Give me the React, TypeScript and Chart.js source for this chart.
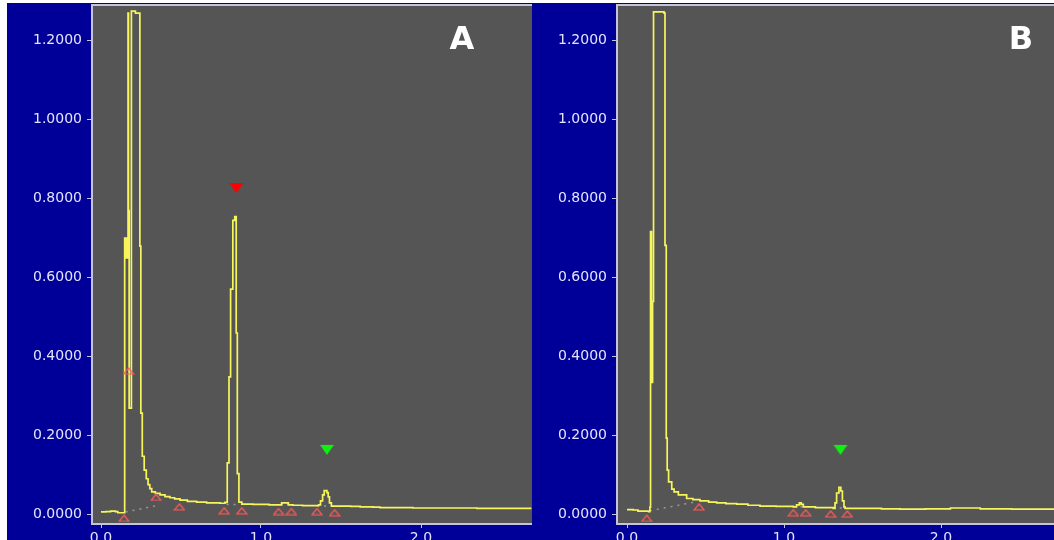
import React, { useEffect, useRef } from "react";
import { Chart, registerables } from "chart.js";

Chart.register(...registerables);

// ---------- shared axis ticks ----------
const yTicks = [0, 0.2, 0.4, 0.6, 0.8, 1.0, 1.2];
const xTicks = [0, 1, 2];

// ---------- Panel A chromatogram ----------
const aTime = [
  0.0, 0.03, 0.06, 0.09, 0.105, 0.148, 0.152, 0.156, 0.16, 0.169, 0.172, 0.176, 0.19, 0.215,
  0.243, 0.249, 0.258, 0.27, 0.283, 0.294, 0.305, 0.317, 0.34, 0.369, 0.4, 0.431, 0.46, 0.494,
  0.54, 0.598, 0.66, 0.744, 0.775, 0.789, 0.8, 0.81, 0.824, 0.836, 0.845, 0.852, 0.862, 0.88,
  0.95, 1.05, 1.12, 1.129, 1.171, 1.2, 1.26, 1.36, 1.372, 1.385, 1.395, 1.412, 1.42, 1.428,
  1.44, 1.5, 1.56, 1.62, 1.7, 1.744, 1.85, 1.95, 2.05, 2.2, 2.35, 2.5, 2.69,
];
const aValue = [
  0.007, 0.008, 0.009, 0.008, 0.005, 0.7, 0.65, 0.7, 0.65, 1.27, 0.77, 0.27, 1.275, 1.27,
  0.68, 0.257, 0.148, 0.113, 0.091, 0.076, 0.066, 0.058, 0.054, 0.05, 0.046, 0.043, 0.04, 0.037,
  0.034, 0.032, 0.03, 0.029, 0.031, 0.131, 0.349, 0.571, 0.745, 0.755, 0.46, 0.104, 0.032, 0.027,
  0.026, 0.025, 0.025, 0.03, 0.025, 0.024, 0.023, 0.025, 0.035, 0.05, 0.061, 0.056, 0.045, 0.03,
  0.022, 0.022, 0.021, 0.02, 0.019, 0.018, 0.018, 0.017, 0.017, 0.017, 0.016, 0.016, 0.016,
];
const aPeakEndTime = [0.144, 0.172, 0.344, 0.49, 0.77, 0.88, 1.11, 1.19, 1.35, 1.46];
const aPeakEndValue = [-0.009, 0.364, 0.044, 0.02, 0.01, 0.01, 0.008, 0.008, 0.008, 0.005];
const aRedMarkTime = [0.846];
const aRedMarkValue = [0.827];
const aGreenMarkTime = [1.4125];
const aGreenMarkValue = [0.164];
const aBaselineTime = [[0.154, 0.348], [0.785, 0.87], [1.12, 1.18], [1.35, 1.45]];
const aBaselineValue = [[0.007, 0.023], [0.026, 0.026], [0.026, 0.026], [0.022, 0.022]];

// ---------- Panel B chromatogram ----------
const bTime = [
  0.0, 0.04, 0.07, 0.138, 0.146, 0.15, 0.156, 0.163, 0.169, 0.236, 0.242, 0.25, 0.256, 0.265,
  0.285, 0.3, 0.327, 0.38, 0.42, 0.465, 0.52, 0.571, 0.63, 0.699, 0.77, 0.847, 0.95, 1.059,
  1.08, 1.098, 1.11, 1.123, 1.2, 1.314, 1.325, 1.335, 1.35, 1.362, 1.372, 1.382, 1.389, 1.5,
  1.62, 1.739, 1.9, 2.06, 2.25, 2.45, 2.72,
];
const bValue = [
  0.013, 0.012, 0.009, 0.008, 0.019, 0.717, 0.335, 0.54, 1.273, 1.27, 0.682, 0.194, 0.113, 0.083,
  0.065, 0.058, 0.05, 0.041, 0.038, 0.035, 0.032, 0.03, 0.028, 0.027, 0.024, 0.022, 0.021, 0.02,
  0.025, 0.03, 0.026, 0.02, 0.018, 0.016, 0.03, 0.055, 0.069, 0.06, 0.035, 0.02, 0.016, 0.016,
  0.015, 0.014, 0.015, 0.017, 0.015, 0.014, 0.014,
];
const bPeakEndTime = [0.125, 0.459, 1.059, 1.138, 1.297, 1.403];
const bPeakEndValue = [-0.009, 0.02, 0.005, 0.005, 0.002, 0.002];
const bGreenMarkTime = [1.36];
const bGreenMarkValue = [0.164];
const bBaselineTime = [[0.146, 0.444], [1.06, 1.14], [1.31, 1.39]];
const bBaselineValue = [[0.01, 0.033], [0.02, 0.02], [0.017, 0.017]];

// ---------- styling ----------
const BLUE = "#000099";
const PLOT_GRAY = "#555555";
const TRACE = "#f6f65c";
const AXIS_TEXT = "#e4e4ff";
const AXIS_LINE = "#c4c4dc";

const zip = (xs: number[], ys: number[]) => xs.map((x, i) => ({ x, y: ys[i] }));

function makeTri(w: number, h: number, color: string, filled: boolean, down: boolean) {
  const c = document.createElement("canvas");
  c.width = w + 2;
  c.height = h + 2;
  const ctx = c.getContext("2d")!;
  ctx.beginPath();
  if (down) {
    ctx.moveTo(1, 1);
    ctx.lineTo(w + 1, 1);
    ctx.lineTo(w / 2 + 1, h + 1);
  } else {
    ctx.moveTo(w / 2 + 1, 1);
    ctx.lineTo(w + 1, h + 1);
    ctx.lineTo(1, h + 1);
  }
  ctx.closePath();
  if (filled) {
    ctx.fillStyle = color;
    ctx.fill();
  } else {
    ctx.strokeStyle = color;
    ctx.lineWidth = 1.2;
    ctx.stroke();
  }
  return c;
}

type PanelSpec = {
  label: string;
  labelFromRight: number;
  width: number;
  yAxisWidth: number;
  padRight: number;
  xMin: number;
  xMax: number;
  time: number[];
  value: number[];
  peakEndTime: number[];
  peakEndValue: number[];
  redTime: number[];
  redValue: number[];
  greenTime: number[];
  greenValue: number[];
  baseTime: number[][];
  baseValue: number[][];
};

const Y_MIN = -0.0235;
const Y_MAX = 1.2904;

function buildChart(canvas: HTMLCanvasElement, p: PanelSpec) {
  const hollow = makeTri(10, 6, "#ff5a5a", false, false);
  const redImg = makeTri(14, 10, "#ff0000", true, true);
  const greenImg = makeTri(14, 10, "#11ee11", true, true);

  const datasets: any[] = [
    {
      data: zip(p.redTime, p.redValue),
      pointStyle: redImg,
      pointRadius: 7,
      showLine: false,
    },
    {
      data: zip(p.greenTime, p.greenValue),
      pointStyle: greenImg,
      pointRadius: 7,
      showLine: false,
    },
    {
      data: zip(p.peakEndTime, p.peakEndValue),
      pointStyle: hollow,
      pointRadius: 6,
      showLine: false,
    },
    {
      data: zip(p.time, p.value),
      showLine: true,
      stepped: "before",
      borderColor: TRACE,
      borderWidth: 1.7,
      pointRadius: 0,
      fill: false,
    },
    ...p.baseTime.map((bt, i) => ({
      data: zip(bt, p.baseValue[i]),
      showLine: true,
      borderColor: "#9a9a9a",
      borderWidth: 1.5,
      borderDash: [2, 5],
      pointRadius: 0,
      fill: false,
    })),
  ];

  const panelPlugin = {
    id: "panelDecor",
    beforeDraw(chart: any) {
      const { ctx, chartArea } = chart;
      ctx.save();
      ctx.fillStyle = PLOT_GRAY;
      ctx.fillRect(chartArea.left, chartArea.top, chartArea.right - chartArea.left, chartArea.bottom - chartArea.top);
      ctx.restore();
    },
    afterDraw(chart: any) {
      const { ctx, chartArea } = chart;
      ctx.save();
      ctx.strokeStyle = AXIS_LINE;
      ctx.lineWidth = 2;
      ctx.beginPath();
      ctx.moveTo(chartArea.right, chartArea.top);
      ctx.lineTo(chartArea.left, chartArea.top);
      ctx.lineTo(chartArea.left, chartArea.bottom);
      ctx.lineTo(chartArea.right, chartArea.bottom);
      ctx.stroke();
      ctx.fillStyle = "#ffffff";
      ctx.font = 'bold 32px "DejaVu Sans", Verdana, sans-serif';
      ctx.textAlign = "center";
      ctx.textBaseline = "middle";
      ctx.fillText(p.label, chartArea.right - p.labelFromRight, chartArea.top + 36);
      ctx.restore();
    },
  };

  return new Chart(canvas, {
    type: "scatter",
    data: { datasets },
    options: {
      animation: false,
      responsive: false,
      maintainAspectRatio: false,
      layout: { autoPadding: false, padding: { top: 2, right: p.padRight, left: 0, bottom: 0 } },
      plugins: { legend: { display: false }, tooltip: { enabled: false } },
      events: [],
      scales: {
        x: {
          type: "linear",
          min: p.xMin,
          max: p.xMax,
          afterBuildTicks: (axis: any) => {
            axis.ticks = xTicks.map((v) => ({ value: v }));
          },
          afterFit: (scale: any) => {
            scale.height = 16;
            scale.paddingLeft = 0;
            scale.paddingRight = 0;
          },
          ticks: {
            color: AXIS_TEXT,
            font: { family: "DejaVu Sans", size: 14 },
            padding: 2,
            maxRotation: 0,
            autoSkip: false,
            callback: (v: any) => Number(v).toFixed(1),
          },
          grid: {
            display: true,
            drawOnChartArea: false,
            drawTicks: true,
            tickLength: 4,
            tickColor: AXIS_LINE,
            tickWidth: 1,
          },
          border: { display: false },
        },
        y: {
          type: "linear",
          min: Y_MIN,
          max: Y_MAX,
          afterBuildTicks: (axis: any) => {
            axis.ticks = yTicks.map((v) => ({ value: v }));
          },
          afterFit: (scale: any) => {
            scale.width = p.yAxisWidth;
            scale.paddingTop = 0;
            scale.paddingBottom = 0;
          },
          ticks: {
            color: AXIS_TEXT,
            font: { family: "DejaVu Sans", size: 14 },
            padding: 5,
            autoSkip: false,
            callback: (v: any) => Number(v).toFixed(4),
          },
          grid: {
            display: true,
            drawOnChartArea: false,
            drawTicks: true,
            tickLength: 5,
            tickColor: AXIS_LINE,
            tickWidth: 1,
          },
          border: { display: false },
        },
      },
    } as any,
    plugins: [panelPlugin],
  });
}

const panelA: PanelSpec = {
  label: "A",
  labelFromRight: 70,
  width: 526,
  yAxisWidth: 85,
  padRight: 1,
  xMin: -0.05625,
  xMax: 2.69375,
  time: aTime,
  value: aValue,
  peakEndTime: aPeakEndTime,
  peakEndValue: aPeakEndValue,
  redTime: aRedMarkTime,
  redValue: aRedMarkValue,
  greenTime: aGreenMarkTime,
  greenValue: aGreenMarkValue,
  baseTime: aBaselineTime,
  baseValue: aBaselineValue,
};

const panelB: PanelSpec = {
  label: "B",
  labelFromRight: 33,
  width: 521,
  yAxisWidth: 84,
  padRight: 0,
  xMin: -0.0637,
  xMax: 2.7197,
  time: bTime,
  value: bValue,
  peakEndTime: bPeakEndTime,
  peakEndValue: bPeakEndValue,
  redTime: [],
  redValue: [],
  greenTime: bGreenMarkTime,
  greenValue: bGreenMarkValue,
  baseTime: bBaselineTime,
  baseValue: bBaselineValue,
};

function Panel({ spec, left }: { spec: PanelSpec; left: number }) {
  const ref = useRef<HTMLCanvasElement | null>(null);
  useEffect(() => {
    if (!ref.current) return;
    const chart = buildChart(ref.current, spec);
    return () => chart.destroy();
  }, [spec]);
  return (
    <div
      style={{
        position: "absolute",
        left,
        top: 3,
        width: spec.width,
        height: 537,
        background: BLUE,
      }}
    >
      <canvas
        ref={ref}
        width={spec.width}
        height={537}
        style={{ display: "block", width: spec.width, height: 537 }}
      />
    </div>
  );
}

export default function App() {
  return (
    <div
      style={{
        position: "absolute",
        left: 0,
        top: 0,
        width: 1054,
        height: 540,
        background: "#ffffff",
        overflow: "hidden",
      }}
    >
      <Panel spec={panelA} left={7} />
      <Panel spec={panelB} left={533} />
    </div>
  );
}
